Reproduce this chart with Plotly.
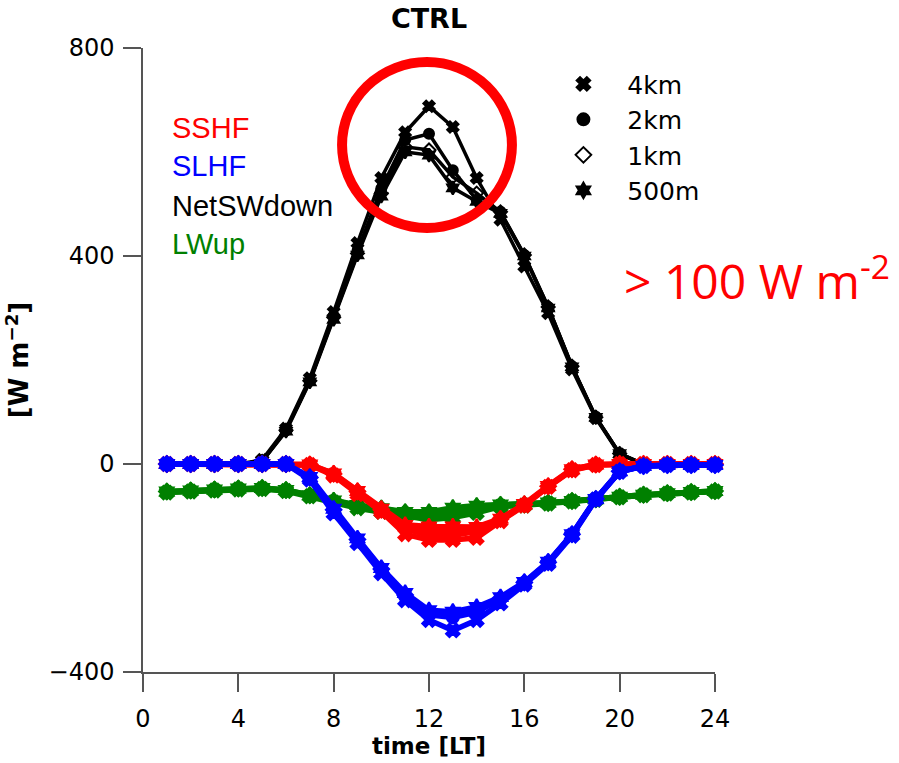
import plotly.graph_objects as go

hours = list(range(1, 25))
resolutions = ["4km", "2km", "1km", "500m"]
res_symbols = ["x", "circle", "diamond-open", "hexagram"]

netsw = {
    "4km":  [0, 0, 0, 0, 8, 68, 165, 292, 425, 550, 638, 688, 648, 550, 470, 380, 290, 182, 88, 18, 0, 0, 0, 0],
    "2km":  [0, 0, 0, 0, 5, 65, 160, 285, 410, 530, 623, 635, 565, 508, 485, 402, 302, 188, 90, 20, 0, 0, 0, 0],
    "1km":  [0, 0, 0, 0, 5, 65, 160, 282, 405, 520, 610, 604, 552, 521, 485, 402, 302, 188, 90, 20, 0, 0, 0, 0],
    "500m": [0, 0, 0, 0, 5, 63, 158, 278, 402, 515, 600, 594, 531, 505, 482, 400, 300, 187, 90, 20, 0, 0, 0, 0],
}
sshf = {
    "4km":  [0, 0, 0, 0, 0, 0, -2, -22, -58, -92, -135, -146, -146, -142, -110, -80, -44, -12, -2, 0, 0, 0, 0, 0],
    "2km":  [0, 0, 0, 0, 0, 0, -2, -20, -55, -90, -125, -137, -137, -130, -108, -79, -43, -11, -2, 0, 0, 0, 0, 0],
    "1km":  [0, 0, 0, 0, 0, 0, -1, -19, -53, -88, -120, -128, -128, -125, -106, -78, -43, -10, -1, 0, 0, 0, 0, 0],
    "500m": [0, 0, 0, 0, 0, 0, -1, -18, -52, -86, -117, -120, -120, -121, -105, -77, -42, -10, -1, 0, 0, 0, 0, 0],
}
slhf = {
    "4km":  [0, 0, 0, 0, 0, 0, -30, -95, -152, -210, -262, -300, -320, -300, -268, -232, -192, -138, -68, -15, -4, -2, -2, -2],
    "2km":  [0, 0, 0, 0, 0, 0, -27, -90, -146, -204, -255, -290, -295, -285, -260, -229, -190, -136, -68, -15, -4, -2, -2, -2],
    "1km":  [0, 0, 0, 0, 0, 0, -26, -88, -145, -202, -252, -285, -288, -280, -258, -228, -189, -135, -67, -14, -4, -2, -2, -2],
    "500m": [0, 0, 0, 0, 0, 0, -25, -86, -143, -200, -248, -281, -284, -275, -256, -227, -188, -135, -67, -14, -4, -2, -2, -2],
}
lwup = {
    "4km":  [-55, -53, -51, -49, -48, -52, -62, -74, -85, -92, -101, -107, -103, -94, -82, -80, -76, -72, -69, -64, -60, -57, -55, -53],
    "2km":  [-54, -52, -50, -48, -47, -51, -61, -72, -82, -88, -96, -100, -95, -88, -80, -79, -75, -72, -69, -64, -60, -57, -55, -53],
    "1km":  [-53, -51, -49, -47, -46, -50, -60, -71, -80, -86, -93, -95, -88, -82, -79, -78, -75, -71, -68, -63, -59, -56, -54, -52],
    "500m": [-53, -51, -49, -47, -46, -50, -60, -70, -79, -85, -92, -92, -84, -80, -78, -78, -74, -71, -68, -63, -59, -56, -54, -52],
}

variables = [
    ("NetSWdown", netsw, "black", 3.5, 10),
    ("LWup", lwup, "#008000", 5.5, 12),
    ("SSHF", sshf, "#ff0000", 5.5, 12),
    ("SLHF", slhf, "#0000ff", 5.5, 12),
]
label_order = ["SSHF", "SLHF", "NetSWdown", "LWup"]
label_colors = {"SSHF": "#ff0000", "SLHF": "#0000ff", "NetSWdown": "black", "LWup": "#008000"}
x_ticks = [0, 4, 8, 12, 16, 20, 24]
y_ticks = [-400, 0, 400, 800]

fig = go.Figure()

for name, data, color, lw, ms in variables:
    for res, sym in zip(resolutions, res_symbols):
        fig.add_trace(go.Scatter(
            x=hours, y=data[res], mode="lines+markers",
            line=dict(color=color, width=lw),
            marker=dict(symbol=sym, size=ms, color=color,
                        line=dict(color=color, width=2)),
            showlegend=False, cliponaxis=False, name=f"{name} {res}",
        ))

# marker legend (resolutions)
legend_sizes = [12, 12, 10, 11]
for res, sym, sz in zip(resolutions, res_symbols, legend_sizes):
    fig.add_trace(go.Scatter(
        x=[None], y=[None], mode="markers",
        marker=dict(symbol=sym, size=sz, color="black", line=dict(color="black", width=2.5)),
        name="\u00a0\u00a0\u00a0" + res, showlegend=True,
    ))

annotations = []
label_y = [0.871, 0.8115, 0.746, 0.686]
for lab, yy in zip(label_order, label_y):
    annotations.append(dict(
        text=lab, x=0.047, y=yy, xref="paper", yref="paper",
        xanchor="left", yanchor="middle", showarrow=False,
        font=dict(family="Liberation Sans, Arial", size=29, color=label_colors[lab]),
    ))
annotations.append(dict(
    text="> 100 W m<sup>-2</sup>", x=0.838, y=0.632, xref="paper", yref="paper",
    xanchor="left", yanchor="middle", showarrow=False,
    font=dict(family="Open Sans", size=48, color="#ff0000"),
))

fig.update_layout(
    width=899, height=763,
    margin=dict(l=143, r=184, t=48, b=91),
    paper_bgcolor="white", plot_bgcolor="white",
    title=dict(text="<b>CTRL</b>", x=0.5, xref="paper", xanchor="center",
               y=0.976, yref="container", yanchor="middle",
               font=dict(family="DejaVu Sans", size=27, color="black")),
    xaxis=dict(range=[0, 24], tickvals=x_ticks, showgrid=False, zeroline=False,
               showline=True, linecolor="#555", linewidth=1.5,
               ticks="outside", ticklen=18, tickcolor="#555", tickwidth=1.5,
               ticklabelstandoff=6, automargin=False,
               tickfont=dict(family="DejaVu Sans", size=24, color="black"),
               title=dict(text="<b>time [LT]</b>", standoff=2,
                          font=dict(family="DejaVu Sans", size=23, color="black"))),
    yaxis=dict(range=[-400, 800], tickvals=y_ticks, showgrid=False, zeroline=False,
               showline=True, linecolor="#555", linewidth=1.5,
               ticks="outside", ticklen=18, tickcolor="#555", tickwidth=1.5,
               ticklabelstandoff=4, automargin=False,
               tickfont=dict(family="DejaVu Sans", size=24, color="black"),
               title=dict(text="<b>[W m<sup>−2</sup>]</b>", standoff=12,
                          font=dict(family="DejaVu Sans", size=26, color="black"))),
    legend=dict(x=0.735, y=0.979, xanchor="left", yanchor="top",
                bgcolor="rgba(0,0,0,0)", borderwidth=0,
                font=dict(family="DejaVu Sans", size=25, color="black"),
                itemsizing="constant"),
    annotations=annotations,
    shapes=[dict(type="circle", xref="paper", yref="paper",
                 x0=0.348, x1=0.645, y0=0.7115, y1=0.9776,
                 line=dict(color="#ff0000", width=10))],
)

fig.write_html("out.html", config={"displayModeBar": False},
               post_script="document.body.style.margin='0';")
